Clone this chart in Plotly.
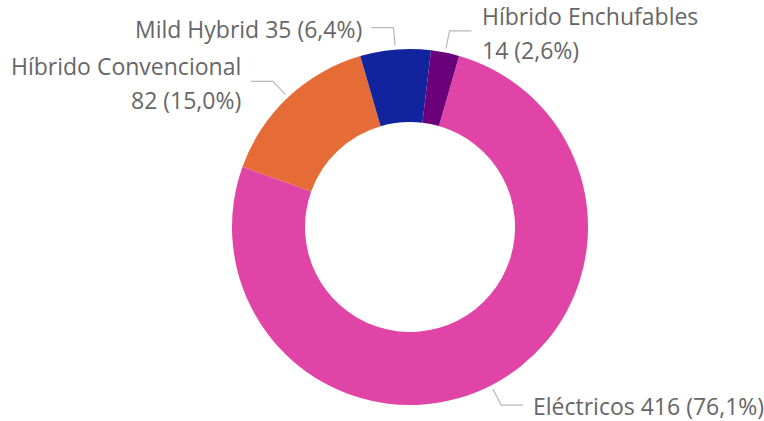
import math
import plotly.graph_objects as go

categories = ["Eléctricos", "Híbrido Convencional", "Mild Hybrid", "Híbrido Enchufables"]
values = [416, 82, 35, 14]
colors = ["#E044A7", "#E66C37", "#12239E", "#6B007B"]
wrapped = {"Híbrido Convencional", "Híbrido Enchufables"}

W, H = 764, 421
cx, cy, R = 410, 227, 178
rotation = 16
font = dict(family="Open Sans, Noto Sans, sans-serif", size=23, color="#666666")
line_color = "#B8B8B8"

fig = go.Figure(go.Pie(
    labels=categories,
    values=values,
    marker=dict(colors=colors, line=dict(width=0)),
    hole=0.59,
    sort=False,
    direction="clockwise",
    rotation=rotation,
    textinfo="none",
    hoverinfo="label+value+percent",
    domain=dict(x=[(cx - R) / W, (cx + R) / W], y=[1 - (cy + R) / H, 1 - (cy - R) / H]),
))

def px(x, y):
    return x / W, 1 - y / H

total = sum(values)
shapes, annotations = [], []
start = rotation
for cat, v in zip(categories, values):
    span = v / total * 360
    mid = math.radians(start + span / 2)
    start += span
    sx, sy = cx + 182 * math.sin(mid), cy - 182 * math.cos(mid)
    ex, ey = cx + 200 * math.sin(mid), cy - 200 * math.cos(mid)
    side = 1 if math.sin(mid) > 0 else -1
    hx = ex + side * 22
    p = [px(sx, sy), px(ex, ey), px(hx, ey)]
    shapes.append(dict(type="path", xref="paper", yref="paper",
                       path="M %f %f L %f %f L %f %f" % (p[0] + p[1] + p[2]),
                       line=dict(color=line_color, width=1.2)))
    pct = f"{v / total * 100:.1f}".replace(".", ",")
    tail = f"{v} ({pct}%)"
    if cat in wrapped:
        lines = [(cat, ey - 15), (tail, ey + 19)]
    else:
        lines = [(f"{cat} {tail}", ey + 1)]
    for t, ty in lines:
        ax, ay = px(hx + side * 8, ty)
        annotations.append(dict(text=t, x=ax, y=ay, xref="paper", yref="paper",
                                xanchor="left" if side > 0 else "right", yanchor="middle",
                                showarrow=False, font=font))

fig.update_layout(
    width=W, height=H,
    margin=dict(l=0, r=0, t=0, b=0),
    paper_bgcolor="white",
    showlegend=False,
    shapes=shapes,
    annotations=annotations,
)
fig.write_html("out.html", config={"displayModeBar": False},
               post_script="document.body.style.margin='0';")
